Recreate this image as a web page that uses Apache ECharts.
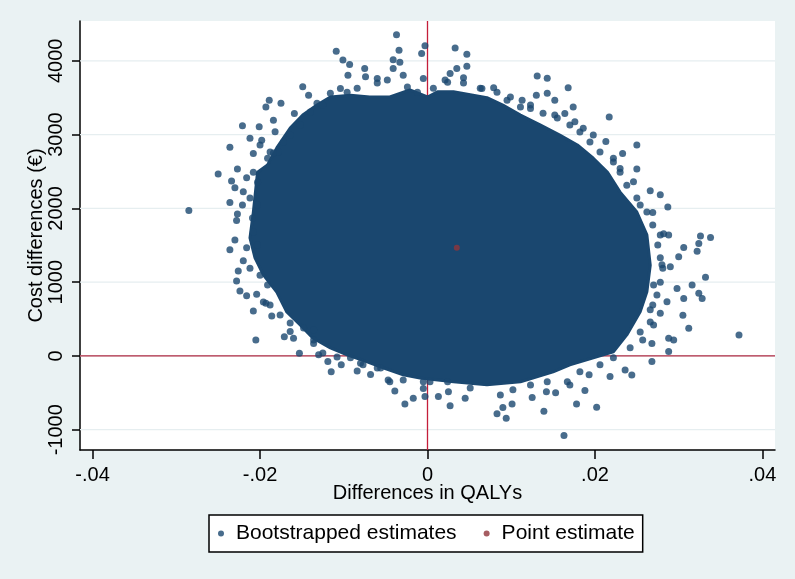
<!DOCTYPE html>
<html>
<head>
<meta charset="utf-8">
<script src="https://cdn.jsdelivr.net/npm/echarts@6/dist/echarts.min.js"></script>
<style>
html,body{margin:0;padding:0;background:#EAF2F3;}
#chart{width:795px;height:579px;}
</style>
</head>
<body>
<div id="chart"></div>
<script>
// ---- tick labels ----
const xTickValues = [-0.04, -0.02, 0, 0.02, 0.04];
const xTickLabels = ['-.04', '-.02', '0', '.02', '.04'];
const yTickValues = [-1000, 0, 1000, 2000, 3000, 4000];
const yTickLabels = ['-1000', '0', '1000', '2000', '3000', '4000'];

// ---- reference lines (xline / yline) ----
const refLineX = [0];
const refLineY = [0];

// ---- dense core of the bootstrap cloud (outline) ----
const cloudOutlineX = [0.0000, 0.0012, 0.0031, 0.0051, 0.0071, 0.0090, 0.0111, 0.0135, 0.0158, 0.0179,
  0.0198, 0.0215, 0.0230, 0.0250, 0.0262, 0.0266, 0.0262, 0.0254, 0.0238, 0.0222,
  0.0198, 0.0170, 0.0150, 0.0111, 0.0071, 0.0031, -0.0009, -0.0029, -0.0053, -0.0072,
  -0.0096, -0.0116, -0.0137, -0.0152, -0.0168, -0.0180, -0.0196, -0.0206, -0.0212, -0.0208,
  -0.0203, -0.0191, -0.0180, -0.0164, -0.0149, -0.0132, -0.0116, -0.0092, -0.0069, -0.0045, -0.0021];
const cloudOutlineY = [3510, 3580, 3580, 3540, 3500, 3400, 3265, 3130, 2995, 2860,
  2680, 2490, 2220, 1950, 1640, 1230, 870, 600, 285, 55,
  -25, -120, -215, -350, -390, -350, -300, -255, -160, -80,
  15, 110, 245, 420, 595, 865, 1100, 1330, 1600, 1950,
  2490, 2590, 2820, 3090, 3265, 3400, 3510, 3535, 3510, 3510, 3605];

// ---- individual bootstrapped estimates around and outside the dense core ----
const bootX = [-0.0037, -0.0034, -0.0041, -0.0033, -0.0007, -0.0003, -0.0109, -0.0101, -0.0093, -0.0095,
  -0.0075, -0.0074, -0.0060, -0.0048, -0.0041, -0.0029, -0.0005, -0.0149, -0.0142, -0.0189,
  -0.0193, -0.0175, -0.0159, -0.0184, -0.0221, -0.0201, -0.0212, -0.0198, -0.0200, -0.0182,
  -0.0236, -0.0208, -0.0250, -0.0227, -0.0234, -0.0230, -0.0216, -0.0220, -0.0236, -0.0221,
  -0.0227, -0.0228, -0.0285, -0.0104, -0.0116, -0.0132, -0.0188, -0.0178,
  -0.0236, -0.0230, -0.0216, -0.0220, -0.0226, -0.0228, -0.0224, -0.0216, -0.0204, -0.0208,
  -0.0193, -0.0186, -0.0205, -0.0171, -0.0160, -0.0164, -0.0153, -0.0130, -0.0119, -0.0115,
  -0.0103, -0.0084, -0.0080, -0.0068, -0.0056, -0.0039, -0.0047, -0.0136, -0.0136, -0.0027,
  -0.0017, -0.0005,
  -0.0003, 0.0013, 0.0027, 0.0025, 0.0045, 0.0083, 0.0094, 0.0090, 0.0101, 0.0125,
  0.0139, 0.0142, 0.0153, 0.0178, 0.0202, 0.0163, 0.0188, 0.0170, 0.0193, 0.0218,
  0.0236, 0.0244, 0.0268, 0.0288, 0.0257, 0.0268, 0.0288, 0.0294, 0.0312, 0.0372,
  0.0306, 0.0305, 0.0324, 0.0328, 0.0316, 0.0332, 0.0322, 0.0324, 0.0326, 0.0338,
  0.0306, 0.0300, 0.0288, 0.0290, 0.0298, 0.0286, 0.0278, 0.0270, 0.0266, 0.0270, 0.0280,
  0.0033, 0.0047, 0.0047, 0.0035, 0.0027, 0.0043, 0.0021, 0.0131, 0.0143, 0.0168,
  0.0143, 0.0152, 0.0130, 0.0079, 0.0065, 0.0174, 0.0217, 0.0250, 0.0233, 0.0213,
  0.0250, 0.0266, 0.0278, 0.0287, 0.0269, 0.0282, 0.0230, 0.0198, 0.0186, 0.0176,
  0.0164, 0.0152, 0.0113, 0.0095, 0.0111, 0.0123, 0.0246, 0.0254, 0.0222,
  // edge fringe
  -0.0208, -0.0203, -0.0191, -0.0184, -0.0164, -0.0152, -0.0172, -0.0140, -0.0125, -0.0096,
  -0.0084, -0.0060, -0.0024, -0.0012, -0.0212, -0.0209, -0.0203,
  -0.0208, -0.0203, -0.0212, -0.0200, -0.0191, -0.0196, -0.0188, -0.0176, -0.0164, -0.0148,
  -0.0136, -0.0125, -0.0108, -0.0092, -0.0077, -0.0060, -0.0045, -0.0029, -0.0005,
  0.0003, 0.0024, 0.0051, 0.0087, 0.0102, 0.0123, 0.0143, 0.0167, 0.0182, 0.0206,
  0.0222, 0.0242, 0.0254, 0.0266, 0.0269, 0.0274, 0.0278, 0.0281, 0.0278, 0.0275, 0.0278,
  0.0269, 0.0262, 0.0250, 0.0238, 0.0230, 0.0222, 0.0206, 0.0194, 0.0182, 0.0170,
  0.0155, 0.0138, 0.0123, 0.0099, 0.0083, 0.0063, 0.0043, 0.0024, 0.0007];
const bootY = [4355, 4145, 4015, 3980, 4100, 4205, 4130, 4010, 3950, 3805,
  3895, 3785, 3760, 3740, 3895, 3805, 3760, 3650, 3535, 3465,
  3375, 3425, 3285, 3195, 3120, 3105, 2950, 2925, 2860, 3040,
  2830, 2745, 2465, 2535, 2370, 2280, 2415, 2225, 2080, 2045,
  1925, 1835, 1970, 3625, 3560, 3425, 2765, 2765,
  1440, 1570, 1465, 1290, 1150, 1015, 880, 815, 835, 610,
  715, 540, 215, 260, 240, 330, 35, 15, -75, -215,
  -120, -205, -100, -250, -165, -475, -325, 350, 170, -650,
  -575, -440,
  -550, -550, -675, -485, -575, -785, -845, -700, -650, -565,
  -750, -485, -500, -650, -695, -1080, -470, -395, -255, -280,
  -190, -260, -75, 60, 215, 170, 240, 215, 375, 285,
  780, 550, 850, 780, 960, 1065, 1420, 1525, 1625, 1605,
  1470, 1345, 1640, 1210, 915, 735, 580, 420, 625, 960, 1235,
  4175, 4090, 3925, 3895, 3830, 3770, 3740, 3795, 3765, 3635,
  3560, 3465, 3535, 3635, 3625, 3375, 3240, 2860, 2745, 2905,
  2535, 2240, 2185, 2020, 1945, 1655, 2540, 2995, 3085, 3175,
  3285, 3265, 3465, 3465, 3375, 3355, 2360, 2045, 2680,
  // edge fringe
  2490, 2355, 2680, 2750, 2995, 3130, 2900, 3305, 3400, 3575,
  3630, 3700, 3645, 3575, 2140, 1870, 2045,
  1680, 1505, 1190, 1095, 960, 730, 690, 555, 445, 380,
  215, 40, -15, -25, -120, -165, -350, -325, -350,
  -350, -350, -435, -530, -460, -395, -350, -350, -215, -120,
  -25, 110, 325, 460, 690, 825, 1000, 1190, 1330, 1505, 1640,
  1775, 1950, 2140, 2315, 2490, 2630, 2765, 2900, 3035, 3130,
  3225, 3290, 3400, 3510, 3575, 3630, 3700, 3710, 3630];

// ---- point estimate ----
const pointEstimateX = [0.0035];
const pointEstimateY = [1467];

const NAVY = '#1A476F';
const MAROON = '#90353B';
const FONT = 'Liberation Sans, Arial, sans-serif';

const chart = echarts.init(document.getElementById('chart'), null, {renderer: 'canvas'});

function lookup(vals, labels, v) {
  let best = 0, d = Infinity;
  vals.forEach((t, i) => { const dd = Math.abs(t - v); if (dd < d) { d = dd; best = i; } });
  return labels[best];
}

const option = {
  backgroundColor: '#EAF2F3',
  animation: false,
  grid: {left: 80, right: 20, top: 21, bottom: 129, show: true, backgroundColor: '#FFFFFF', borderWidth: 0},
  xAxis: {
    type: 'value', min: -0.0415, max: 0.0415,
    name: 'Differences in QALYs', nameLocation: 'middle', nameGap: 33, nameMoveOverlap: false,
    nameTextStyle: {fontFamily: FONT, fontSize: 20, color: '#000'},
    axisLine: {show: true, onZero: false, lineStyle: {color: '#000', width: 1.5}},
    axisTick: {show: true, length: 9, customValues: xTickValues, lineStyle: {color: '#000', width: 1.5}},
    axisLabel: {show: true, customValues: xTickValues, margin: 15, fontFamily: FONT, fontSize: 20, color: '#000',
      formatter: v => lookup(xTickValues, xTickLabels, v)},
    splitLine: {show: false}
  },
  yAxis: {
    type: 'value', min: -1275, max: 4540,
    name: 'Cost differences (€)', nameLocation: 'middle', nameGap: 34, nameRotate: 90, nameMoveOverlap: false,
    nameTextStyle: {fontFamily: FONT, fontSize: 20, color: '#000'},
    axisLine: {show: true, onZero: false, lineStyle: {color: '#000', width: 1.5}},
    axisTick: {show: true, length: 8, customValues: yTickValues, lineStyle: {color: '#000', width: 1.5}},
    axisLabel: {show: true, customValues: yTickValues, rotate: 90, margin: 14, fontFamily: FONT, fontSize: 20, color: '#000',
      formatter: v => lookup(yTickValues, yTickLabels, v)},
    splitLine: {show: false}
  },
  legend: {
    show: true, left: 209, top: 515,
    data: ['Bootstrapped estimates', 'Point estimate'],
    icon: 'circle', itemWidth: 20, itemHeight: 6, itemGap: 27,
    padding: [8, 8, 8, 9],
    borderColor: '#000', borderWidth: 1.5, backgroundColor: '#FFFFFF',
    textStyle: {fontFamily: FONT, fontSize: 21, color: '#000'}
  },
  series: [
    {
      // gridlines, zero reference lines (underneath) and the dense core of the cloud
      name: '_cloud', type: 'custom', z: 2, silent: true,
      data: cloudOutlineX.map((x, i) => [x, cloudOutlineY[i]]),
      encode: {x: 0, y: 1},
      clip: true,
      renderItem: function (params, api) {
        if (params.dataIndex !== 0) return null;
        const cs = params.coordSys;
        const children = [];
        yTickValues.forEach(v => {
          const y = api.coord([0, v])[1];
          children.push({type: 'line', shape: {x1: cs.x, y1: y, x2: cs.x + cs.width, y2: y},
            style: {stroke: '#E6EEF0', lineWidth: 1.2}});
        });
        refLineX.forEach(v => {
          const x = api.coord([v, 0])[0];
          children.push({type: 'line', shape: {x1: x, y1: cs.y, x2: x, y2: cs.y + cs.height},
            style: {stroke: '#C41E3A', lineWidth: 1.3}});
        });
        refLineY.forEach(v => {
          const y = api.coord([0, v])[1];
          children.push({type: 'line', shape: {x1: cs.x, y1: y, x2: cs.x + cs.width, y2: y},
            style: {stroke: '#B02A43', lineWidth: 1.3}});
        });
        const pts = cloudOutlineX.map((x, i) => api.coord([x, cloudOutlineY[i]]));
        children.push({
          type: 'polygon',
          shape: {points: pts},
          style: {fill: NAVY, stroke: NAVY, lineWidth: 3, lineJoin: 'round'}
        });
        return {type: 'group', children: children};
      }
    },
    {
      name: 'Bootstrapped estimates', type: 'scatter', z: 3,
      symbol: 'circle', symbolSize: 7,
      itemStyle: {color: NAVY},
      data: bootX.map((x, i) => [x, bootY[i]])
    },
    {
      name: 'Point estimate', type: 'scatter', z: 4,
      symbol: 'circle', symbolSize: 6,
      itemStyle: {color: MAROON},
      data: pointEstimateX.map((x, i) => [x, pointEstimateY[i]])
    }
  ]
};
chart.setOption(option);
</script>
</body>
</html>
